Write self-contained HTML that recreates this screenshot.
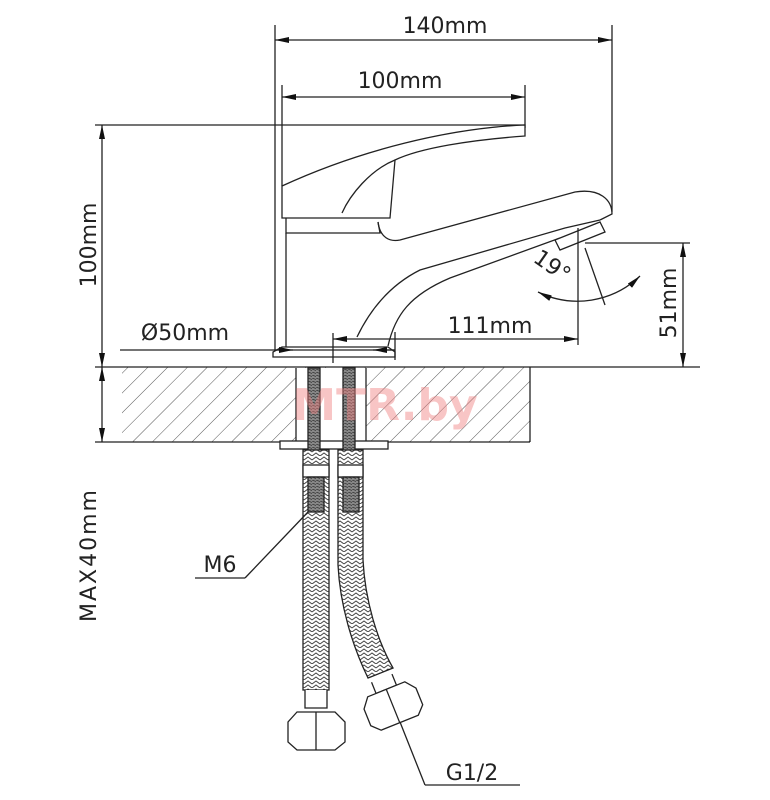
<!DOCTYPE html>
<html><head><meta charset="utf-8"><style>
html,body{margin:0;padding:0;background:#fff}
svg{display:block}
text{font-family:"DejaVu Sans","Liberation Sans",sans-serif;fill:#222}
</style></head><body>
<svg width="770" height="800" viewBox="0 0 770 800" xmlns="http://www.w3.org/2000/svg">
<defs>
<pattern id="hatch" width="14" height="14" patternUnits="userSpaceOnUse" patternTransform="rotate(45)">
<line x1="0" y1="0" x2="0" y2="14" stroke="#555" stroke-width="1"/>
</pattern>
<pattern id="braid" width="8" height="8" patternUnits="userSpaceOnUse">
<rect width="8" height="8" fill="#fff"/>
<path d="M0 4 L4 1 L8 4 M0 8 L4 5 L8 8" stroke="#444" stroke-width="1" fill="none"/>
</pattern>
<pattern id="thread" width="4" height="3" patternUnits="userSpaceOnUse">
<rect width="4" height="3" fill="#888"/>
<line x1="0" y1="0" x2="4" y2="1.5" stroke="#333" stroke-width="0.8"/>
</pattern>
<marker id="ar" markerWidth="14" markerHeight="6" refX="14" refY="3" orient="auto" markerUnits="userSpaceOnUse">
<path d="M0 0 L14 3 L0 6 Z" fill="#111"/>
</marker>
<marker id="al" markerWidth="14" markerHeight="6" refX="0" refY="3" orient="auto" markerUnits="userSpaceOnUse">
<path d="M14 0 L0 3 L14 6 Z" fill="#111"/>
</marker>
</defs>
<g stroke="#222" stroke-width="1.3" fill="none">
<rect x="122" y="367" width="408" height="75" fill="url(#hatch)" stroke="none"/>
<line x1="95" y1="367" x2="700" y2="367"/>
<line x1="95" y1="442" x2="530" y2="442"/>
<line x1="530" y1="367" x2="530" y2="442"/>
<rect x="296" y="368" width="70" height="73" fill="#fff" stroke="none"/>
<line x1="296" y1="368" x2="296" y2="441"/>
<line x1="366" y1="368" x2="366" y2="441"/>
<line x1="275" y1="25" x2="275" y2="352"/>
<line x1="612" y1="25" x2="612" y2="212"/>
<line x1="275" y1="40" x2="612" y2="40" marker-start="url(#al)" marker-end="url(#ar)"/>
<line x1="282" y1="85" x2="282" y2="186"/>
<line x1="525" y1="85" x2="525" y2="128"/>
<line x1="282" y1="97" x2="525" y2="97" marker-start="url(#al)" marker-end="url(#ar)"/>
<line x1="95" y1="125" x2="525" y2="125"/>
<line x1="102" y1="125" x2="102" y2="367" marker-start="url(#al)" marker-end="url(#ar)"/>
<line x1="102" y1="367" x2="102" y2="442" marker-start="url(#al)" marker-end="url(#ar)"/>
<path d="M282 186 C360 150 450 128 525 125 L525 136 C470 140 420 148 395 160 L390 218 L282 218 Z" fill="#fff"/>
<path d="M395 160 C370 170 350 195 342 213"/>
<path d="M286 218 L286 233 L380 233 L378 222"/>
<path d="M378 222 C380 238 390 242 400 240 L575 192 C600 188 612 200 612 214 L600 220"/>
<path d="M600 220 L565 228 L420 270 C390 285 370 310 357 337"/>
<path d="M388 346 C395 315 410 295 450 278 L560 238"/>
<line x1="286" y1="233" x2="286" y2="350"/>
<path d="M555 240 L600 222 L605 232 L560 250 Z" fill="#fff"/>
<line x1="578" y1="228" x2="578" y2="345"/>
<line x1="585" y1="248" x2="605" y2="305"/>
<path d="M538 292 A90 90 0 0 0 640 276" marker-start="url(#al)" marker-end="url(#ar)"/>
<path d="M273 357 L273 352 L282 347 L388 347 L395 352 L395 357 Z" fill="#fff"/>
<line x1="395" y1="332" x2="395" y2="360"/>
<line x1="333" y1="333" x2="333" y2="363"/>
<line x1="120" y1="350" x2="395" y2="350"/>
<line x1="275" y1="350" x2="293" y2="350" marker-end="url(#ar)"/>
<line x1="395" y1="350" x2="373" y2="350" marker-end="url(#ar)"/>
<line x1="333" y1="339" x2="578" y2="339" marker-start="url(#al)" marker-end="url(#ar)"/>
<line x1="585" y1="243" x2="690" y2="243"/>
<line x1="683" y1="243" x2="683" y2="367" marker-start="url(#al)" marker-end="url(#ar)"/>
<rect x="280" y="441" width="108" height="8" fill="#fff"/>
<rect x="308" y="368" width="12" height="90" fill="url(#thread)"/>
<rect x="343" y="368" width="12" height="90" fill="url(#thread)"/>
<rect x="303" y="450" width="26" height="240" fill="url(#braid)"/>
<rect x="303" y="465" width="26" height="12" fill="#fff"/>
<rect x="308" y="477" width="16" height="35" fill="url(#thread)"/>
<path d="M338 450 L363 450 L363 560 C365 600 377 640 393 668 L368 678 C352 645 340 605 338 565 Z" fill="url(#braid)"/>
<rect x="338" y="465" width="25" height="12" fill="#fff"/>
<rect x="343" y="477" width="16" height="35" fill="url(#thread)"/>
<path d="M305 690 L305 708 L327 708 L327 690" fill="#fff"/>
<path d="M297 712 L288 722 L288 742 L297 750 L335 750 L345 742 L345 722 L335 712 Z" fill="#fff"/>
<line x1="316" y1="712" x2="316" y2="750"/>
<g transform="translate(393,706) rotate(-22)">
<path d="M-11 -30 L-11 -18 L11 -18 L11 -30" fill="#fff"/>
<path d="M-20 -18 L-28 -8 L-28 10 L-20 18 L20 18 L28 10 L28 -8 L20 -18 Z" fill="#fff"/>
<line x1="0" y1="-18" x2="0" y2="18"/>
</g>
<line x1="195" y1="578" x2="245" y2="578"/>
<line x1="245" y1="578" x2="308" y2="512"/>
<line x1="400" y1="722" x2="425" y2="785"/>
<line x1="425" y1="785" x2="520" y2="785"/>
</g>
<text x="445" y="33" font-size="22" text-anchor="middle">140mm</text>
<text x="400" y="88" font-size="22" text-anchor="middle">100mm</text>
<text x="185" y="340" font-size="22" text-anchor="middle">Ø50mm</text>
<text x="490" y="333" font-size="22" text-anchor="middle">111mm</text>
<text transform="translate(96,245) rotate(-90)" font-size="22" text-anchor="middle">100mm</text>
<text transform="translate(96,555) rotate(-90)" font-size="22" text-anchor="middle" letter-spacing="2">MAX40mm</text>
<text transform="translate(676,303) rotate(-90)" font-size="22" text-anchor="middle">51mm</text>
<text transform="translate(548,272) rotate(35)" font-size="22" text-anchor="middle">19°</text>
<text x="220" y="572" font-size="22" text-anchor="middle">M6</text>
<text x="472" y="780" font-size="22" text-anchor="middle">G1/2</text>
<text x="385" y="420" font-size="44" font-weight="bold" text-anchor="middle" style="fill:#f08080;opacity:0.45">MTR.by</text>
</svg>
</body></html>
